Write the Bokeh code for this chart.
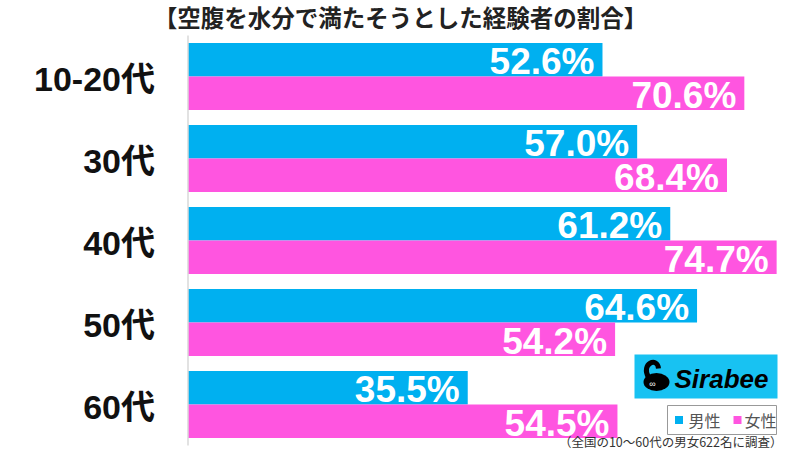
from bokeh.plotting import figure
from bokeh.models import ColumnDataSource, Range1d
from bokeh.core.properties import value
from bokeh.embed import file_html
from bokeh.resources import INLINE

# ---- data ----
categories = ["10-20代", "30代", "40代", "50代", "60代"]
male = [52.6, 57.0, 61.2, 64.6, 35.5]
female = [70.6, 68.4, 74.7, 54.2, 54.5]
series_names = ["男性", "女性"]
title_text = "【空腹を水分で満たそうとした経験者の割合】"
note_text = "（全国の10～60代の男女622名に調査）"
brand_text = "Sirabee"

# ---- styling / layout ----
W, H = 784, 450
X0_PX = 187.5      # pixel where value 0 sits
PX_PER = 7.88      # pixels per percent
ROW0_PX = 76.0     # pixel centre of first category
ROW_PX = 82.0      # pixels per category
BAR_H = 0.41
BLUE = "#00b0f0"
PINK = "#ff55e0"
LATIN = "'Liberation Sans', 'Noto Sans CJK JP', sans-serif"
CJK = "'Noto Sans CJK JP', sans-serif"


def dx(px):
    return (px - X0_PX) / PX_PER


def dy(py):
    return (py - ROW0_PX) / ROW_PX


p = figure(width=W, height=H, output_backend="svg", toolbar_location=None,
           x_range=Range1d(dx(0), dx(W)), y_range=Range1d(dy(H), dy(0)),
           min_border=0, min_border_left=0, min_border_right=0,
           min_border_top=0, min_border_bottom=0)
p.axis.visible = False
p.grid.visible = False
p.outline_line_color = None
p.background_fill_color = "white"
p.border_fill_color = "white"

idx = list(range(len(categories)))
half = BAR_H / 2
src_m = ColumnDataSource(dict(y=[i - half for i in idx], v=male,
                              lab=[f"{v:.1f}%" for v in male]))
src_f = ColumnDataSource(dict(y=[i + half for i in idx], v=female,
                              lab=[f"{v:.1f}%" for v in female]))
src_c = ColumnDataSource(dict(y=idx, x=[0] * len(idx), cat=categories))

p.hbar(y="y", right="v", left=0, height=BAR_H, source=src_m,
       fill_color=BLUE, line_color=None)
p.hbar(y="y", right="v", left=0, height=BAR_H, source=src_f,
       fill_color=PINK, line_color=None)

# axis line
p.segment(x0=[0], y0=[-0.5], x1=[0], y1=[len(categories) - 0.5],
          line_color="#d9d9d9", line_width=1.5)

# value labels
for src in (src_m, src_f):
    p.text(x="v", y="y", text="lab", source=src, x_offset=-8, y_offset=2,
           text_align="right", text_baseline="middle", text_color="white",
           text_font=value(LATIN), text_font_style=value("bold"),
           text_font_size=value("37px"))

# category labels
p.text(x="x", y="y", text="cat", source=src_c, x_offset=-33, y_offset=2,
       text_align="right", text_baseline="middle", text_color="#111111",
       text_font=value(LATIN), text_font_style=value("bold"),
       text_font_size=value("34px"))

# title
p.text(x=[dx(400)], y=[dy(-1)], text=[title_text], text_align="center",
       text_baseline="top", text_color="#222222", text_font=value(CJK),
       text_font_style=value("bold"), text_font_size=value("23.5px"))

# footnote
p.text(x=[dx(782)], y=[dy(450)], text=[note_text], text_align="right",
       text_baseline="bottom", text_color="#333333", text_font=value(CJK),
       text_font_size=value("12.5px"))

# brand logo
p.quad(left=[dx(634)], right=[dx(777)], top=[dy(354)], bottom=[dy(398)],
       fill_color="#18c2f2", line_color=None)
p.ellipse(x=[dx(656)], y=[dy(381.5)], width=[26 / PX_PER],
          height=[18 / ROW_PX], fill_color="black", line_color=None)
p.bezier(x0=[dx(648)], y0=[dy(377)], x1=[dx(658)], y1=[dy(368)],
         cx0=[dx(640)], cy0=[dy(363)], cx1=[dx(657)], cy1=[dy(356)],
         line_color="black", line_width=5)
p.text(x=[dx(652)], y=[dy(383)], text=["∞"], text_align="center",
       text_baseline="middle", text_color="white", text_font=value(LATIN),
       text_font_size=value("9px"))
p.text(x=[dx(674)], y=[dy(378)], text=[brand_text], text_align="left",
       text_baseline="middle", text_color="black", text_font=value(LATIN),
       text_font_style=value("bold italic"), text_font_size=value("26px"))

# legend
p.quad(left=[dx(667)], right=[dx(776)], top=[dy(405)], bottom=[dy(434)],
       fill_color="white", line_color="#999999", line_width=1)
p.scatter(x=[dx(678.5), dx(737)], y=[dy(419.5), dy(419.5)], marker="square",
          size=8, fill_color=[BLUE, PINK], line_color=None)
p.text(x=[dx(688), dx(744)], y=[dy(419.5), dy(419.5)], text=series_names,
       text_align="left", text_baseline="middle", text_color="#555555",
       text_font=value(CJK), text_font_size=value("16px"))

open("out.html", "w").write(file_html(p, INLINE))
